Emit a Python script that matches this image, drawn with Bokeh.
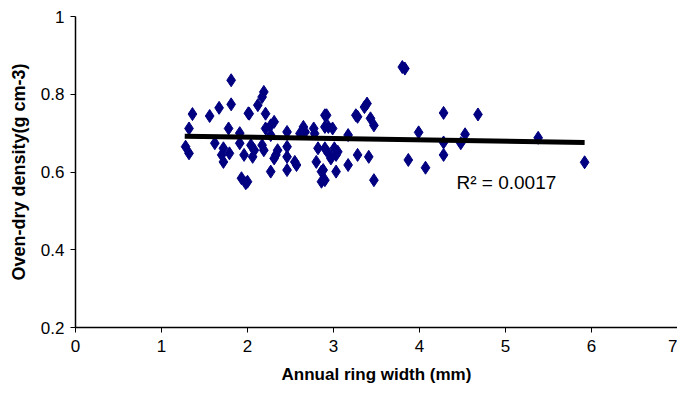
from bokeh.plotting import figure
from bokeh.models import Range1d, FixedTicker
from bokeh.embed import file_html
from bokeh.resources import INLINE

# Data
ring_width = [
    1.81, 1.81, 1.67, 1.36, 1.56, 2.01, 1.32, 1.78, 1.91, 1.28, 1.32, 1.62,
    1.72, 1.70, 1.79, 1.72, 1.96, 1.91, 1.93, 1.98,
    2.19, 2.17, 2.12, 2.02, 2.21, 2.31, 2.27, 2.21, 2.27, 2.46, 2.65, 2.67,
    2.61, 2.77, 2.78, 2.90, 2.90, 2.04, 2.08, 2.06, 2.17, 2.19, 2.35, 2.33,
    2.31, 2.46, 2.46, 2.55, 2.57, 2.46, 2.27, 2.00, 2.82, 2.80, 2.86, 2.86,
    3.39, 3.36, 3.28, 3.26, 3.43, 3.47, 2.92, 2.94, 2.99, 3.17, 2.90, 2.94,
    3.01, 3.05, 2.97, 3.03, 2.88, 2.90, 3.03, 3.17, 3.28, 3.41, 3.47,
    3.80, 3.83, 4.28, 4.68, 3.99, 4.53, 4.48, 4.28, 5.38, 3.87, 4.07, 4.28,
    5.92,
]
density = [
    0.836, 0.774, 0.765, 0.749, 0.744, 0.751, 0.712, 0.712, 0.700, 0.665, 0.648, 0.674,
    0.661, 0.644, 0.648, 0.626, 0.644, 0.674, 0.584, 0.571,
    0.806, 0.793, 0.772, 0.750, 0.750, 0.729, 0.720, 0.712, 0.695, 0.703, 0.716, 0.703,
    0.699, 0.712, 0.699, 0.746, 0.716, 0.669, 0.656, 0.639, 0.669, 0.656, 0.656, 0.644,
    0.635, 0.665, 0.639, 0.626, 0.618, 0.605, 0.601, 0.575, 0.661, 0.626, 0.601, 0.575,
    0.776, 0.767, 0.742, 0.746, 0.738, 0.720, 0.746, 0.716, 0.712, 0.695, 0.661, 0.648,
    0.661, 0.652, 0.635, 0.644, 0.605, 0.579, 0.601, 0.618, 0.644, 0.639, 0.579,
    0.870, 0.866, 0.752, 0.748, 0.702, 0.697, 0.674, 0.676, 0.688, 0.631, 0.611, 0.644,
    0.625,
]
trend_x = [1.27, 5.92]
trend_y = [0.692, 0.676]
x_ticks = [0, 1, 2, 3, 4, 5, 6, 7]
y_ticks = [0.2, 0.4, 0.6, 0.8, 1.0]
r2_label = "R\u00b2 = 0.0017"

p = figure(width=677, height=386, output_backend="svg", toolbar_location=None,
           x_range=Range1d(0, 7), y_range=Range1d(0.2, 1.0),
           min_border_left=75, min_border_right=0, min_border_top=16,
           min_border_bottom=58)
p.outline_line_color = None
p.background_fill_color = "white"
p.border_fill_color = "white"
p.xgrid.visible = False
p.ygrid.visible = False

p.scatter(ring_width, density, marker="diamond", size=13,
          fill_color="#000080", line_color="#000080")
p.line(trend_x, trend_y, line_color="black", line_width=5)
p.text(x=[4.43], y=[0.574], text=[r2_label], text_font_size="19px",
       text_font={"value": "Liberation Sans"}, text_color="black",
       text_align="left", text_baseline="alphabetic")

for ax in (p.xaxis[0], p.yaxis[0]):
    ax.axis_line_color = "black"
    ax.axis_line_width = 1.5
    ax.major_tick_line_color = "black"
    ax.major_tick_out = 5
    ax.major_tick_in = 0
    ax.minor_tick_line_color = None
    ax.major_label_text_font = "Liberation Sans"
    ax.major_label_text_font_size = "17px"
    ax.major_label_text_color = "black"
    ax.axis_label_text_font = "Liberation Sans"
    ax.axis_label_text_font_style = "bold"
    ax.axis_label_text_color = "black"

p.xaxis.ticker = FixedTicker(ticks=x_ticks)
p.yaxis.ticker = FixedTicker(ticks=y_ticks)
p.yaxis.major_label_overrides = {1.0: "1"}
p.xaxis.axis_label = "Annual ring width (mm)"
p.yaxis.axis_label = "Oven-dry density(g cm-3)"
p.xaxis.axis_label_text_font_size = "17px"
p.yaxis.axis_label_text_font_size = "18px"
p.xaxis.major_label_standoff = 7
p.yaxis.major_label_standoff = 6
p.xaxis.axis_label_standoff = 10
p.yaxis.axis_label_standoff = 9

open("out.html", "w").write(file_html(p, INLINE))
